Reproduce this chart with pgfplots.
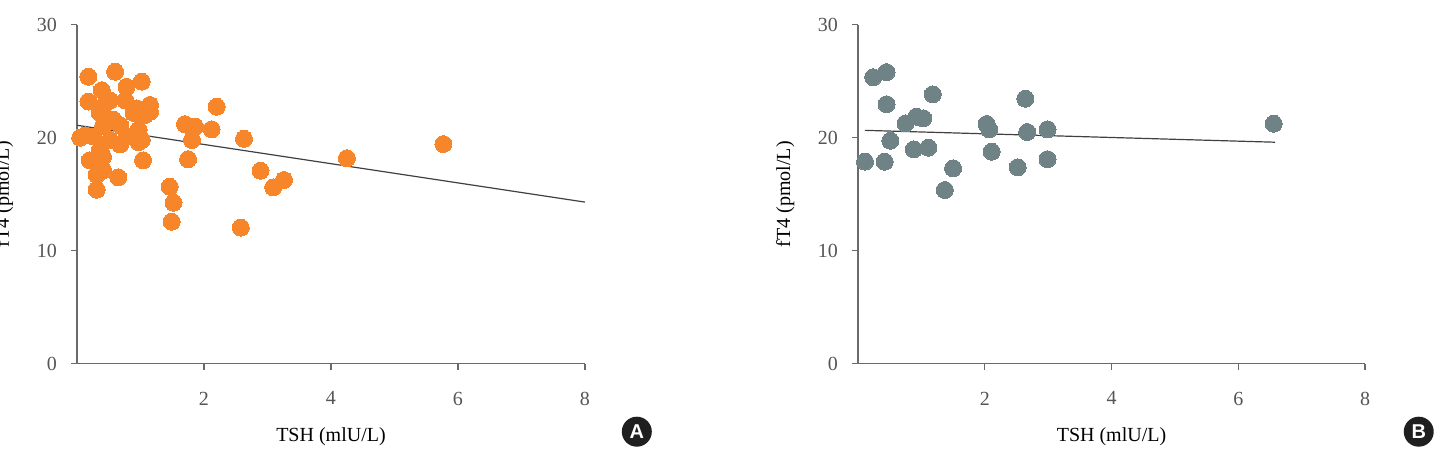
\documentclass[border=0pt]{standalone}
\usepackage{fontspec}
\setmainfont{Liberation Serif}
\setsansfont{Liberation Sans}
\usepackage{pgfplots}
\pgfplotsset{compat=1.18}
\definecolor{orA}{HTML}{F7862A}
\definecolor{grB}{HTML}{6F8285}
\definecolor{axg}{HTML}{6A6A6A}
\definecolor{txg}{HTML}{555555}
\definecolor{regl}{HTML}{404040}

\pgfplotsset{panel/.style={
  scale only axis, height=169.5pt,
  xmin=0, xmax=8, ymin=0, ymax=30,
  axis lines*=left,
  axis line style={axg, line width=0.6pt},
  xtick={2,4,6,8}, ytick={0,10,20,30},
  tick align=outside, major tick length=3pt,
  tick style={axg, line width=0.6pt},
  ticklabel style={font=\fontsize{10}{12}\selectfont, text=txg},
  xticklabel style={yshift=-7.5pt},
  yticklabel style={xshift=-3.5pt},
  /pgf/number format/assume math mode=true,
  clip=false,
  xlabel={TSH (mlU/L)}, ylabel={fT4 (pmol/L)},
  label style={font=\fontsize{11.5}{13}\selectfont, text=txg},
  every axis x label/.style={at={(axis description cs:0.5,-0.2153)}, anchor=center},
  every axis y label/.style={at={(axis description cs:-0.1437,0.5)}, anchor=center, rotate=90},
  anchor=south west,
}}

\begin{document}
\begin{tikzpicture}
\begin{axis}[panel, width=254pt, at={(38.5pt,47.15pt)}]
\addplot[orA, only marks, mark=*, mark size=4.25pt, mark options={draw=orA, fill=orA, line width=0pt}] coordinates {
(0.18,25.4) (0.60,25.84) (1.02,24.96) (0.39,24.2) (0.78,24.5) (0.18,23.2) (0.52,23.3)
(0.94,22.6) (1.15,22.9) (1.07,22.0) (0.89,22.2) (0.36,22.2) (0.13,20.2) (0.05,20.0)
(0.41,21.0) (0.52,19.8) (0.97,20.7) (0.97,19.6) (0.78,20.1) (0.26,20.1) (1.04,18.0)
(0.20,18.0) (0.41,18.3) (0.31,16.7) (0.65,16.5) (0.41,17.1) (0.31,15.4) (1.15,22.3)
(1.02,19.8) (0.57,21.6) (0.68,19.4) (0.36,18.9) (0.68,21.1) (0.44,23.0) (0.76,23.3)
(2.20,22.74) (1.70,21.2) (1.86,20.97) (2.12,20.74) (1.81,19.8) (2.63,19.9) (1.75,18.1)
(1.46,15.66) (1.52,14.25) (1.49,12.57) (2.89,17.08) (3.26,16.26) (3.09,15.6) (2.58,12.04)
(4.25,18.18) (5.77,19.44)
};
\addplot[regl, line width=0.6pt] coordinates {(0,21.1) (8,14.3)};
\node[circle, fill=black!88, text=white, inner sep=0pt, minimum size=15pt,
  font=\sffamily\bfseries\fontsize{10}{12}\selectfont] at (axis description cs:1.102,-0.2006) {A};
\end{axis}

\begin{axis}[panel, width=253.5pt, at={(429pt,47.15pt)}]
\addplot[grB, only marks, mark=*, mark size=4.25pt, mark options={draw=grB, fill=grB, line width=0pt}] coordinates {
(0.24,25.35) (0.45,25.8) (0.45,22.96) (1.18,23.84) (0.75,21.27) (0.92,21.86) (1.03,21.72)
(0.51,19.73) (0.88,18.97) (1.11,19.12) (0.11,17.88) (0.42,17.88) (1.50,17.29) (1.37,15.37)
(2.03,21.21) (2.07,20.74) (2.11,18.76) (2.64,23.45) (2.67,20.5) (2.52,17.38) (2.99,20.74)
(2.99,18.09) (6.56,21.24)
};
\addplot[regl, line width=0.6pt] coordinates {(0.11,20.65) (6.58,19.6)};
\node[circle, fill=black!88, text=white, inner sep=0pt, minimum size=15pt,
  font=\sffamily\bfseries\fontsize{10}{12}\selectfont] at (axis description cs:1.106,-0.2006) {B};
\end{axis}
\pgfresetboundingbox
\path[use as bounding box] (0,0) rectangle (724.5pt,229pt);
\end{tikzpicture}
\end{document}
